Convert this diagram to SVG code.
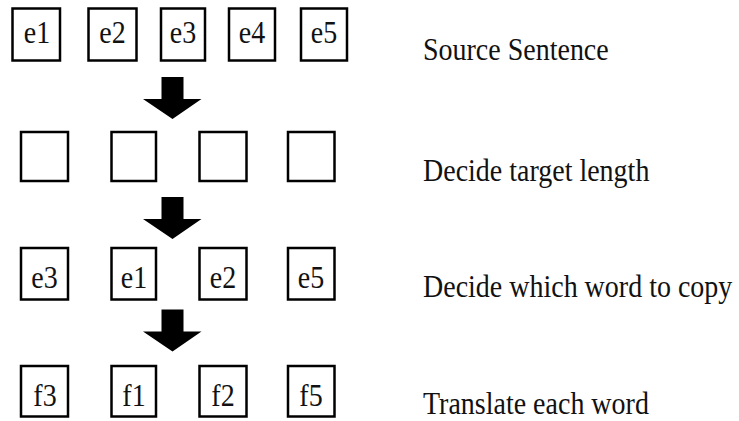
<svg xmlns="http://www.w3.org/2000/svg" xmlns:xlink="http://www.w3.org/1999/xlink" width="739" height="421" viewBox="0 0 739 421">
<style>
.box{fill:#fff;stroke:#000;stroke-width:2.5}
text{font-family:'Liberation Serif','Times New Roman',Times,'DejaVu Serif',serif;font-size:28px;fill:#111}
.lbl{text-anchor:middle}
</style>
<defs>
<path id="arr" d="M161.5,0 H183.5 V22 H201.5 L172.5,42 L143,22 H161.5 Z" fill="#000"/>
</defs>
<rect width="739" height="421" fill="#fff"/>

<g id="row1" font-family="Liberation Serif, serif">
<g id="n-e1"><rect class="box" x="12.5" y="8.5" width="47.5" height="52"/><text class="lbl" transform="translate(37,43) scale(1,1.12)">e1</text></g>
<g id="n-e2"><rect class="box" x="88.5" y="8.5" width="48" height="52"/><text class="lbl" transform="translate(112.5,43) scale(1,1.12)">e2</text></g>
<g id="n-e3"><rect class="box" x="161" y="8.5" width="44" height="52"/><text class="lbl" transform="translate(183,43) scale(1,1.12)">e3</text></g>
<g id="n-e4"><rect class="box" x="229" y="8.5" width="46" height="52"/><text class="lbl" transform="translate(252,43) scale(1,1.12)">e4</text></g>
<g id="n-e5"><rect class="box" x="301" y="8.5" width="46" height="52"/><text class="lbl" transform="translate(324,43) scale(1,1.12)">e5</text></g>
</g>

<g id="row2">
<g id="n-b1"><rect class="box" x="21" y="132" width="47" height="49"/></g>
<g id="n-b2"><rect class="box" x="111.5" y="132" width="44.5" height="49"/></g>
<g id="n-b3"><rect class="box" x="199.5" y="132" width="47" height="49"/></g>
<g id="n-b4"><rect class="box" x="288" y="132" width="46.5" height="49"/></g>
</g>

<g id="row3">
<g id="n-c1"><rect class="box" x="21" y="248" width="47" height="51.5"/><text class="lbl" transform="translate(44.5,287.5) scale(1,1.12)">e3</text></g>
<g id="n-c2"><rect class="box" x="111.5" y="248" width="44.5" height="51.5"/><text class="lbl" transform="translate(134,287.5) scale(1,1.12)">e1</text></g>
<g id="n-c3"><rect class="box" x="199.5" y="248" width="47" height="51.5"/><text class="lbl" transform="translate(223,287.5) scale(1,1.12)">e2</text></g>
<g id="n-c4"><rect class="box" x="288" y="248" width="46.5" height="51.5"/><text class="lbl" transform="translate(311,287.5) scale(1,1.12)">e5</text></g>
</g>

<g id="row4">
<g id="n-f3"><rect class="box" x="21" y="366" width="47" height="50.5"/><text class="lbl" transform="translate(45,405.5) scale(1,1.12)">f3</text></g>
<g id="n-f1"><rect class="box" x="111.5" y="366" width="44.5" height="50.5"/><text class="lbl" transform="translate(134,405.5) scale(1,1.12)">f1</text></g>
<g id="n-f2"><rect class="box" x="199.5" y="366" width="47" height="50.5"/><text class="lbl" transform="translate(223,405.5) scale(1,1.12)">f2</text></g>
<g id="n-f5"><rect class="box" x="288" y="366" width="46.5" height="50.5"/><text class="lbl" transform="translate(311,405.5) scale(1,1.12)">f5</text></g>
</g>

<g id="connectors">
<use xlink:href="#arr" transform="translate(0,77)"/>
<use xlink:href="#arr" transform="translate(0,197)"/>
<use xlink:href="#arr" transform="translate(0,309.5)"/>
</g>

<g id="captions">
<text transform="translate(423,60) scale(1,1.15)">Source Sentence</text>
<text transform="translate(423,181) scale(1,1.15)">Decide target length</text>
<text transform="translate(423,297) scale(1,1.15)">Decide which word to copy</text>
<text transform="translate(423,414) scale(1,1.15)">Translate each word</text>
</g>
</svg>
